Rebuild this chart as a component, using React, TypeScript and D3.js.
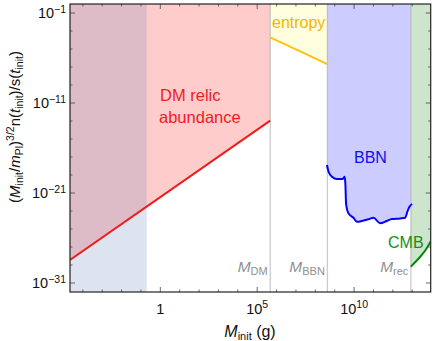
import React from "react";
import * as d3 from "d3";

const W = 436;
const H = 341;
const font = "Liberation Sans, Arial, sans-serif";

// axis ranges (grams / dimensionless bound)
const massRange = [2.18e-5, 9e13];
const boundRange = [1e-32, 1];

const xMajorTicks = [1, 1e5, 1e10];
const xMajorBase = ["1", "10", "10"];
const xMajorExp = ["", "5", "10"];
const yMajorTicks = [1e-31, 1e-21, 1e-11, 1e-1];
const yMajorExp = ["−31", "−21", "−11", "−1"];

// vertical threshold masses
const thresholdNames = ["DM", "BBN", "rec"];
const thresholdMasses = [4.7e5, 4.2e8, 8.5e12];
const lightMassEdge = 0.2;

// constraint curves
const relicMass = [2.18e-5, 4.7e5];
const relicBound = [3.6e-29, 1.1e-13];
const entropyMass = [4.7e5, 4.2e8];
const entropyBound = [2.0e-4, 2.1e-7];
const bbnMass = [
  3.98e8, 4.8e8, 7.2e8, 1.3e9, 2.6e9, 3.2e9, 3.5e9, 3.9e9, 5.1e9, 9.3e9, 1.4e10,
  2.5e10, 5.5e10, 1.0e11, 2.2e11, 4.9e11, 8.9e11, 2.4e12, 4.4e12, 5.6e12, 7.2e12, 1.0e13,
];
const bbnBound = [
  1.29e-18, 2.3e-19, 6.5e-20, 3.6e-20, 3.6e-20, 6.5e-20, 1.8e-20, 4.7e-23, 5.5e-24, 1.8e-24, 6.5e-25,
  7.8e-25, 1.2e-24, 1.8e-24, 4.3e-25, 7.8e-25, 1.3e-24, 1.5e-24, 1.8e-24, 8.3e-24, 3.0e-23, 6.0e-23,
];
const cmbMass = [8.5e12, 1.4e13, 2.6e13, 5.0e13, 9.0e13];
const cmbBound = [6.5e-30, 2.0e-29, 8.3e-29, 5.0e-28, 4.0e-27];

const zip = (a: number[], b: number[]) => a.map((v, i) => [v, b[i]] as [number, number]);

export default function App() {
  const x = d3.scaleLog().domain(massRange).range([70, 430.7]);
  const y = d3.scaleLog().domain(boundRange).range([292, 4]);
  const top = y(boundRange[1]);
  const bottom = y(boundRange[0]);
  const left = x(massRange[0]);
  const right = x(massRange[1]);

  const line = d3
    .line<[number, number]>()
    .x((d) => x(d[0]))
    .y((d) => y(d[1]));
  const smooth = d3
    .line<[number, number]>()
    .x((d) => x(d[0]))
    .y((d) => y(d[1]))
    .curve(d3.curveMonotoneX);
  const above = d3
    .area<[number, number]>()
    .x((d) => x(d[0]))
    .y0(top)
    .y1((d) => y(d[1]));
  const aboveSmooth = d3
    .area<[number, number]>()
    .x((d) => x(d[0]))
    .y0(top)
    .y1((d) => y(d[1]))
    .curve(d3.curveMonotoneX);

  const relic = zip(relicMass, relicBound);
  const entropy = zip(entropyMass, entropyBound);
  const bbn = zip(bbnMass, bbnBound);
  const cmb = zip(cmbMass, cmbBound);

  const xMinor = d3.range(-4, 14).map((e) => Math.pow(10, e));
  const yMinor = d3.range(-31, 0, 2).map((e) => Math.pow(10, e));

  return (
    <div style={{ position: "absolute", left: 0, top: 0 }}>
      <svg width={W} height={H} style={{ display: "block", fontFamily: font }}>
        <defs>
          <clipPath id="plot">
            <rect x={left} y={top} width={right - left} height={bottom - top} />
          </clipPath>
          <clipPath id="bbnClip">
            <rect x={x(thresholdMasses[1])} y={top} width={x(thresholdMasses[2]) - x(thresholdMasses[1])} height={bottom - top} />
          </clipPath>
        </defs>
        <rect width={W} height={H} fill="#fff" />
        <g clipPath="url(#plot)">
          <path d={above(relic) ?? ""} fill="#ffcccc" />
          <path d={above(entropy) ?? ""} fill="#ffffe0" />
          <path d={aboveSmooth(bbn) ?? ""} fill="#ccccff" clipPath="url(#bbnClip)" />
          <path d={aboveSmooth(cmb) ?? ""} fill="#cce5cc" />
          <rect
            x={left}
            y={top}
            width={x(lightMassEdge) - left}
            height={bottom - top}
            fill="rgb(98,130,181)"
            fillOpacity={0.216}
          />
          {thresholdMasses.map((m, i) => (
            <line key={i} x1={x(m)} x2={x(m)} y1={top} y2={bottom} stroke="#a8a8a8" strokeOpacity={0.6} strokeWidth={1.3} />
          ))}
          <path d={line(relic) ?? ""} fill="none" stroke="#ee1c1c" strokeWidth={2} />
          <path d={line(entropy) ?? ""} fill="none" stroke="#ffc20e" strokeWidth={2} />
          <path d={smooth(bbn) ?? ""} fill="none" stroke="#0000ff" strokeWidth={2} />
          <path d={smooth(cmb) ?? ""} fill="none" stroke="#008a00" strokeWidth={2} />
        </g>

        {/* annotations */}
        <text x={160} y={101} fill="#ee1c1c" fontSize={16.5}>DM relic</text>
        <text x={159} y={123} fill="#ee1c1c" fontSize={16.5}>abundance</text>
        <text x={272} y={28} fill="#f5b400" fontSize={16}>entropy</text>
        <text x={354} y={163} fill="#1010ee" fontSize={16}>BBN</text>
        <text x={388} y={248} fill="#159015" fontSize={16}>CMB</text>
        {thresholdMasses.map((m, i) => (
          <text key={i} x={x(m) - 2.5} y={272} textAnchor="end" fill="#8f8f8f" fontSize={15.5}>
            <tspan fontStyle="italic">M</tspan>
            <tspan fontSize={11} dy={3}>{thresholdNames[i]}</tspan>
          </text>
        ))}

        {/* ticks */}
        <g stroke="#444" strokeWidth={0.8}>
          {xMinor.map((m, i) => {
            const len = xMajorTicks.includes(m) ? 5 : 2.5;
            return (
              <g key={i}>
                <line x1={x(m)} x2={x(m)} y1={bottom} y2={bottom - len} />
                <line x1={x(m)} x2={x(m)} y1={top} y2={top + len} />
              </g>
            );
          })}
          {yMinor.map((v, i) => {
            const len = yMajorTicks.some((t) => Math.abs(Math.log10(t) - Math.log10(v)) < 0.01) ? 5 : 2.5;
            return (
              <g key={i}>
                <line x1={left} x2={left + len} y1={y(v)} y2={y(v)} />
                <line x1={right} x2={right - len} y1={y(v)} y2={y(v)} />
              </g>
            );
          })}
        </g>
        <rect x={left} y={top} width={right - left} height={bottom - top} fill="none" stroke="#222" strokeWidth={1.2} />

        {/* tick labels */}
        {xMajorTicks.map((m, i) => (
          <text key={i} x={x(m)} y={313.5} textAnchor="middle" fontSize={14.5} fill="#111">
            {xMajorBase[i]}
            {xMajorExp[i] && (
              <tspan fontSize={10.5} dy={-5.5}>{xMajorExp[i]}</tspan>
            )}
          </text>
        ))}
        {yMajorTicks.map((v, i) => (
          <text key={i} x={66} y={y(v) + 5.3} textAnchor="end" fontSize={14.5} fill="#111">
            10<tspan fontSize={10.5} dy={-5.5}>{yMajorExp[i]}</tspan>
          </text>
        ))}

        {/* axis labels */}
        <text x={250} y={336.5} textAnchor="middle" fontSize={16} fill="#111">
          <tspan fontStyle="italic">M</tspan>
          <tspan fontSize={11} dy={3}>init</tspan>
          <tspan dy={-3}> (g)</tspan>
        </text>
        <text transform="translate(20,127) rotate(-90)" textAnchor="middle" fontSize={15} fill="#111">
          (<tspan fontStyle="italic">M</tspan>
          <tspan fontSize={10.5} dy={3}>init</tspan>
          <tspan dy={-3}>/</tspan>
          <tspan fontStyle="italic">m</tspan>
          <tspan fontSize={10.5} dy={3}>Pl</tspan>
          <tspan dy={-3}>)</tspan>
          <tspan fontSize={10.5} dy={-6}>3/2</tspan>
          <tspan dy={6}>n(</tspan>
          <tspan fontStyle="italic">t</tspan>
          <tspan fontSize={10.5} dy={3}>init</tspan>
          <tspan dy={-3}>)/s(</tspan>
          <tspan fontStyle="italic">t</tspan>
          <tspan fontSize={10.5} dy={3}>init</tspan>
          <tspan dy={-3}>)</tspan>
        </text>
      </svg>
    </div>
  );
}
